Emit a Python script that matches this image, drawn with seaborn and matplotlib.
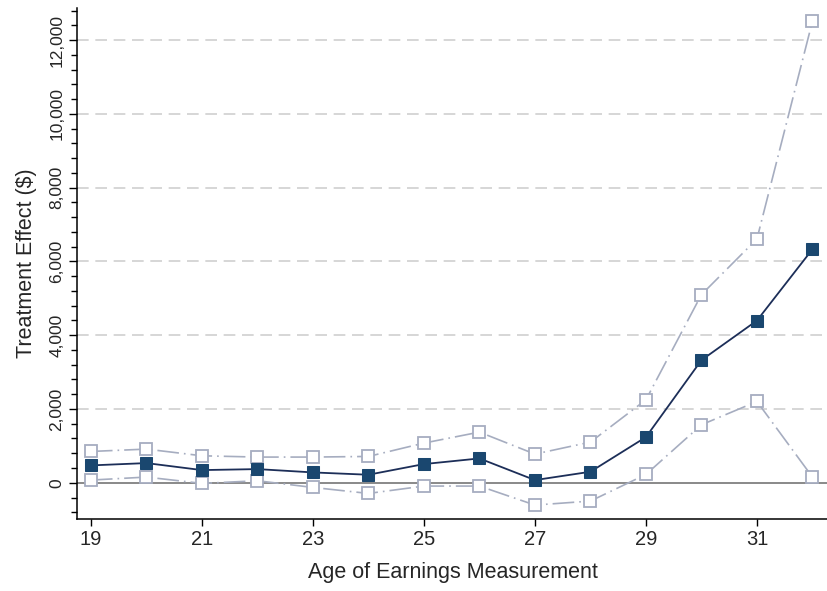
import matplotlib
matplotlib.use("Agg")
import matplotlib.pyplot as plt
from matplotlib.ticker import MultipleLocator, FuncFormatter
import seaborn as sns
import pandas as pd

# Age at which earnings are measured
ages = [19, 20, 21, 22, 23, 24, 25, 26, 27, 28, 29, 30, 31, 32]
# Point estimates of the treatment effect ($)
effect = [470, 533, 343, 370, 280, 217, 506, 659, 72, 298, 1237, 3323, 4397, 6330]
# Upper and lower bounds of the confidence interval ($)
upper = [848, 912, 731, 696, 696, 713, 1075, 1373, 777, 1102, 2248, 5100, 6609, 12513]
lower = [72, 154, -18, 54, -127, -290, -90, -90, -605, -497, 225, 1571, 2203, 154]

df = pd.DataFrame({"age": ages, "effect": effect, "upper": upper, "lower": lower})

sns.set_style("white")
plt.rcParams["font.family"] = ["Liberation Sans", "DejaVu Sans"]

fig = plt.figure(figsize=(8.28, 5.91), dpi=100)
ax = fig.add_axes([0.093, 0.122, 0.907, 0.8645])

navy = "#1a476f"
navy_line = "#1c2e58"
ci_col = "#a6adc0"
ci_style = (0, (13, 3, 1, 3))

# horizontal reference lines
for yv in [2000, 4000, 6000, 8000, 10000, 12000]:
    ax.axhline(yv, color="#d0d0d0", lw=1.2, ls=(0, (7, 4)), zorder=0)
ax.axhline(0, color="#808080", lw=1.3, zorder=1)

for col in ["upper", "lower"]:
    sns.lineplot(data=df, x="age", y=col, ax=ax, color=ci_col, lw=1.2,
                 linestyle=ci_style, marker="s", markersize=8,
                 markerfacecolor="white", markeredgecolor=ci_col,
                 markeredgewidth=1.3, zorder=2)

sns.lineplot(data=df, x="age", y="effect", ax=ax, color=navy_line, lw=1.3,
             marker="s", markersize=8, markerfacecolor=navy,
             markeredgecolor=navy, zorder=3)

ax.set_xlim(18.75, 32.28)
ax.set_ylim(-980, 12870)

ax.set_xticks([19, 21, 23, 25, 27, 29, 31])
ax.yaxis.set_major_locator(MultipleLocator(2000))
ax.yaxis.set_minor_locator(MultipleLocator(400))
ax.yaxis.set_major_formatter(FuncFormatter(lambda v, p: f"{int(v):,}"))

ax.tick_params(axis="x", which="major", direction="out", length=5, width=1,
               color="black", labelsize=14.5, pad=3, bottom=True)
ax.tick_params(axis="y", which="major", direction="out", length=6, width=1,
               color="black", labelsize=12.5, pad=3, left=True)
ax.tick_params(axis="y", which="minor", direction="out", length=4, width=1,
               color="black", left=True)
for lab in ax.get_yticklabels():
    lab.set_rotation(90)
    lab.set_va("center")

for side in ["top", "right"]:
    ax.spines[side].set_visible(False)
for side in ["left", "bottom"]:
    ax.spines[side].set_color("black")
    ax.spines[side].set_linewidth(1.1)

ax.set_xlabel("Age of Earnings Measurement", fontsize=15.5, labelpad=9)
ax.set_ylabel("Treatment Effect ($)", fontsize=15.5, labelpad=9)

fig.savefig("out.png", dpi=100, facecolor="white")
